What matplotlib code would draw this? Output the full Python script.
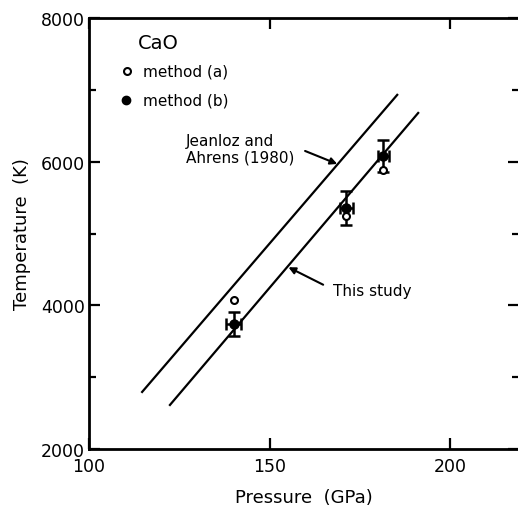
import numpy as np
import matplotlib
matplotlib.use('Agg')
import matplotlib.pyplot as plt

# Measured points (method b, with error bars) and method (a)
pressure = [140.0, 171.2, 181.5]
temp_b = [3740, 5350, 6075]
temp_b_err = [165, 235, 220]
pressure_err = [2.0, 1.8, 1.5]
temp_a = [4075, 5240, 5890]

# Fitted lines
jeanloz_p = [114.7, 185.3]
jeanloz_t = [2794, 6930]
study_p = [122.4, 191.1]
study_t = [2613, 6678]

plt.rcParams['font.family'] = 'DejaVu Sans'

fig = plt.figure(figsize=(5.18, 5.06), dpi=100)
ax = fig.add_axes([89 / 518, 56 / 506, 430 / 518, 431 / 506])

# Lines
ax.plot(jeanloz_p, jeanloz_t, color='black', lw=1.6)
ax.plot(study_p, study_t, color='black', lw=1.6)

# Data points
ax.errorbar(pressure, temp_b, yerr=temp_b_err, xerr=pressure_err, fmt='o',
            color='black', ms=6.5, elinewidth=1.8, capsize=4, capthick=1.8, zorder=3)
ax.plot(pressure, temp_a, 'o', mfc='white', mec='black', mew=1.5, ms=5, zorder=4)

# Legend drawn by hand
ax.text(0.114, 0.944, 'CaO', transform=ax.transAxes, fontsize=14, va='center')
ax.plot([0.088], [0.878], 'o', mfc='white', mec='black', mew=1.5, ms=5,
        transform=ax.transAxes)
ax.text(0.126, 0.878, 'method (a)', transform=ax.transAxes, fontsize=11, va='center')
ax.plot([0.086], [0.810], 'o', color='black', ms=6, transform=ax.transAxes)
ax.text(0.126, 0.810, 'method (b)', transform=ax.transAxes, fontsize=11, va='center')

# Annotations
ax.text(126.9, 6177, 'Jeanloz and\nAhrens (1980)', fontsize=11, va='center',
        linespacing=1.1)
ax.annotate('', xy=(168.7, 5968), xytext=(159.8, 6149),
            arrowprops=dict(arrowstyle='-|>', color='black', lw=1.5, mutation_scale=10,
                            shrinkA=0, shrinkB=0))
ax.text(167.6, 4200, 'This study', fontsize=11, va='center')
ax.annotate('', xy=(155.2, 4530), xytext=(164.8, 4287),
            arrowprops=dict(arrowstyle='-|>', color='black', lw=1.5, mutation_scale=10,
                            shrinkA=0, shrinkB=0))

# Axes
ax.set_xlim(100, 219)
ax.set_ylim(2000, 8000)
ax.set_xticks([100, 150, 200])
ax.set_yticks([2000, 4000, 6000, 8000])
ax.set_yticks([3000, 5000, 7000], minor=True)
ax.spines['right'].set_visible(False)
for s in ['left', 'bottom', 'top']:
    ax.spines[s].set_linewidth(2)
ax.tick_params(which='both', direction='in', top=True, right=True, labelsize=12.5,
               width=1.6)
ax.tick_params(which='major', length=8, pad=3)
ax.tick_params(which='minor', length=5)
ax.tick_params(axis='x', which='major', pad=6)
ax.set_xlabel('Pressure  (GPa)', fontsize=13, labelpad=9)
ax.set_ylabel('Temperature  (K)', fontsize=13, labelpad=7)

fig.savefig('out.png', dpi=100)
